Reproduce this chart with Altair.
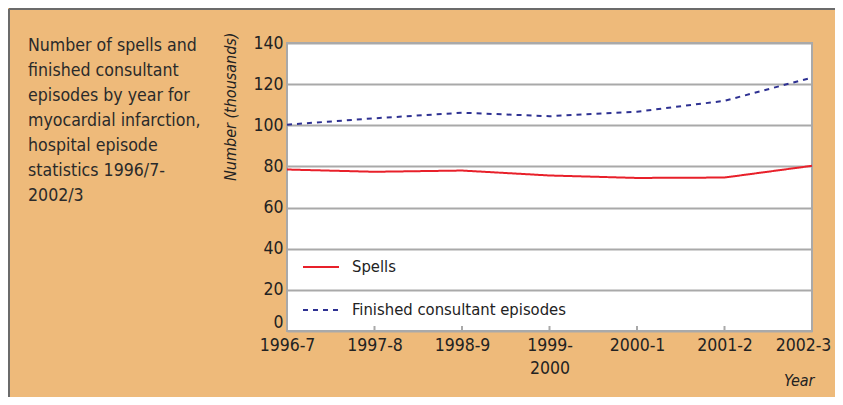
import altair as alt
import pandas as pd

years = ["1996-7", "1997-8", "1998-9", "1999-2000", "2000-1", "2001-2", "2002-3"]
spells = [78.5, 77.4, 78.0, 75.6, 74.4, 74.6, 80.3]
fce = [100.3, 103.4, 106.1, 104.4, 106.6, 111.9, 123.2]
series_names = ["Spells", "Finished consultant episodes"]
y_ticks = [0, 20, 40, 60, 80, 100, 120, 140]
description = ("Number of spells and\nfinished consultant\nepisodes by year for\n"
               "myocardial infarction,\nhospital episode\nstatistics 1996/7-\n2002/3")

FONT = "Liberation Sans Narrow, Arial Narrow, DejaVu Sans Condensed, sans-serif"
BG = "#EEBA7A"
GRID = "#A9A9A9"

rows = []
for i, yr in enumerate(years):
    rows.append({"year": yr, "series": series_names[0], "value": spells[i], "order": i})
    rows.append({"year": yr, "series": series_names[1], "value": fce[i], "order": i})
df = pd.DataFrame(rows)

W, H = 525, 288

xscale = alt.Scale(type="point", padding=0, domain=years)

legend_cfg = dict(title=None, orient="none", legendX=15, legendY=205,
                  symbolType="stroke", symbolSize=1296, symbolStrokeWidth=2,
                  labelFont=FONT, labelFontSize=16.5, labelColor="#222", labelLimit=0,
                  labelOffset=12, rowPadding=15, padding=0)

lines = alt.Chart(df).mark_line(strokeWidth=2).encode(
    x=alt.X("year:O", scale=xscale, sort=years,
            axis=alt.Axis(title="Year", titleFont=FONT, titleFontStyle="italic",
                          titleFontWeight="normal", titleFontSize=16, titleColor="#222",
                          titleAnchor="end", titleAlign="right", titleX=W + 2, titleY=54,
                          titleBaseline="alphabetic",
                          labelAngle=0, labelFont=FONT, labelFontSize=17.5, labelColor="#222",
                          labelPadding=5, labelBaseline="top", labelLineHeight=23,
                          labelOffset={"condition": {"test": "datum.value == '2002-3'", "value": -9},
                                       "value": 0},
                          labelExpr="datum.value == '1999-2000' ? ['1999-', '2000'] : datum.label",
                          ticks=False, domain=False, grid=False)),
    y=alt.Y("value:Q", scale=alt.Scale(domain=[0, 140], nice=False, zero=True),
            axis=alt.Axis(values=y_ticks, title="Number (thousands)", titleFont=FONT,
                          titleFontStyle="italic", titleFontWeight="normal", titleFontSize=16,
                          titleColor="#222", titleAngle=-90, titleAlign="right",
                          titleBaseline="middle", titleX=-57, titleY=-11,
                          labelFont=FONT, labelFontSize=17.5, labelColor="#222", labelPadding=4,
                          labelBaseline={"condition": {"test": "datum.value == 0", "value": "bottom"},
                                         "value": "middle"},
                          ticks=False, domain=False, grid=True, gridColor=GRID, gridWidth=2)),
    color=alt.Color("series:N", scale=alt.Scale(domain=series_names, range=["#E8202A", "#2E3192"]),
                    legend=alt.Legend(**legend_cfg)),
    strokeDash=alt.StrokeDash("series:N",
                              scale=alt.Scale(domain=series_names, range=[[1, 0], [5, 5]]),
                              legend=alt.Legend(**legend_cfg)),
    order="order:Q",
)

ticks = alt.Chart(pd.DataFrame({"year": years[1:-1]})).mark_rule(color=GRID, strokeWidth=2).encode(
    x=alt.X("year:O", scale=xscale, sort=years),
    y=alt.value(H - 5), y2=alt.value(H),
)

desc = alt.Chart(pd.DataFrame({"t": [description]})).mark_text(
    align="left", baseline="top", lineBreak="\n", lineHeight=25, fontSize=17.6,
    font=FONT, color="#2a2a2a").encode(
    x=alt.value(-259), y=alt.value(-6), text="t:N")

border_top = alt.Chart(pd.DataFrame({"a": [0]})).mark_rule(color="#6b6b6b", strokeWidth=2).encode(
    x=alt.value(-278), x2=alt.value(W + 40), y=alt.value(-34))
border_left = alt.Chart(pd.DataFrame({"a": [0]})).mark_rule(color="#6b6b6b", strokeWidth=2).encode(
    x=alt.value(-278), y=alt.value(-34), y2=alt.value(H + 80))

chart = alt.layer(lines, ticks, desc, border_top, border_left).properties(
    width=W, height=H,
    background=BG,
    padding={"left": 279, "top": 35, "right": 23, "bottom": 66},
    autosize=alt.AutoSizeParams(type="none"),
).configure_view(fill="white", stroke=GRID, strokeWidth=2)

chart.save("out.html", embed_options={"renderer": "svg", "actions": False})
